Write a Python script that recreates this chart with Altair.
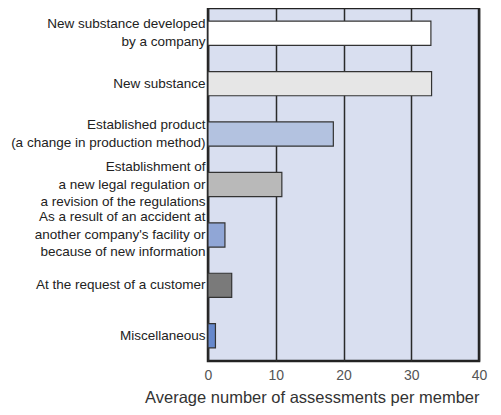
import altair as alt
import pandas as pd

categories = [
    "New substance developed|by a company",
    "New substance",
    "Established product|(a change in production method)",
    "Establishment of|a new legal regulation or|a revision of the regulations",
    "As a result of an accident at|another company's facility or|because of new information",
    "At the request of a customer",
    "Miscellaneous",
]
values = [32.9, 33.0, 18.5, 10.9, 2.5, 3.5, 1.1]
bar_colors = ["#ffffff", "#e6e6e6", "#b3c2e0", "#b9b9b9", "#90a6d6", "#7a7a7a", "#6688cc"]
x_ticks = [0, 10, 20, 30, 40]

df = pd.DataFrame({"cat": categories, "val": values})

font = "Liberation Sans"
lh = 17.5

bars = alt.Chart(df).mark_bar(stroke="#333333", strokeWidth=1.2).encode(
    x=alt.X("val:Q", scale=alt.Scale(domain=[0, 40], nice=False),
            axis=alt.Axis(values=x_ticks, title="Average number of assessments per member",
                          grid=True, gridColor="#2a2a2a", gridWidth=1.5,
                          ticks=False, domain=False, labelFont=font, labelFlush=False,
                          labelFontSize=14, labelColor="#555555", labelPadding=7,
                          titleFont=font, titleFontSize=16.5, titleAnchor="end",
                          titleFontWeight="normal", titleColor="#333333", titlePadding=7)),
    y=alt.Y("cat:N", sort=categories,
            scale=alt.Scale(paddingInner=0.52, paddingOuter=0.26),
            axis=alt.Axis(title=None, ticks=False, domain=False,
                          labelExpr="split(datum.label, '|')",
                          labelFont=font, labelFontSize=13.5, labelLineHeight=lh,
                          labelColor="#222222", labelPadding=3, labelLimit=0,
                          labelOffset={"condition": [
                              {"test": "length(split(datum.value, '|')) == 3", "value": -lh},
                              {"test": "length(split(datum.value, '|')) == 2", "value": -lh / 2},
                          ], "value": 0},
                          minExtent=200, maxExtent=200)),
    color=alt.Color("cat:N", scale=alt.Scale(domain=categories, range=bar_colors), legend=None),
)

chart = bars.properties(
    width=271, height=353,
    padding={"left": 0, "top": 0, "right": 2, "bottom": 0},
    background="white",
).configure_view(
    fill="#d9dff0", stroke="#222222", strokeWidth=2.5
)

chart.save("out.html", embed_options={"renderer": "svg", "actions": False})
